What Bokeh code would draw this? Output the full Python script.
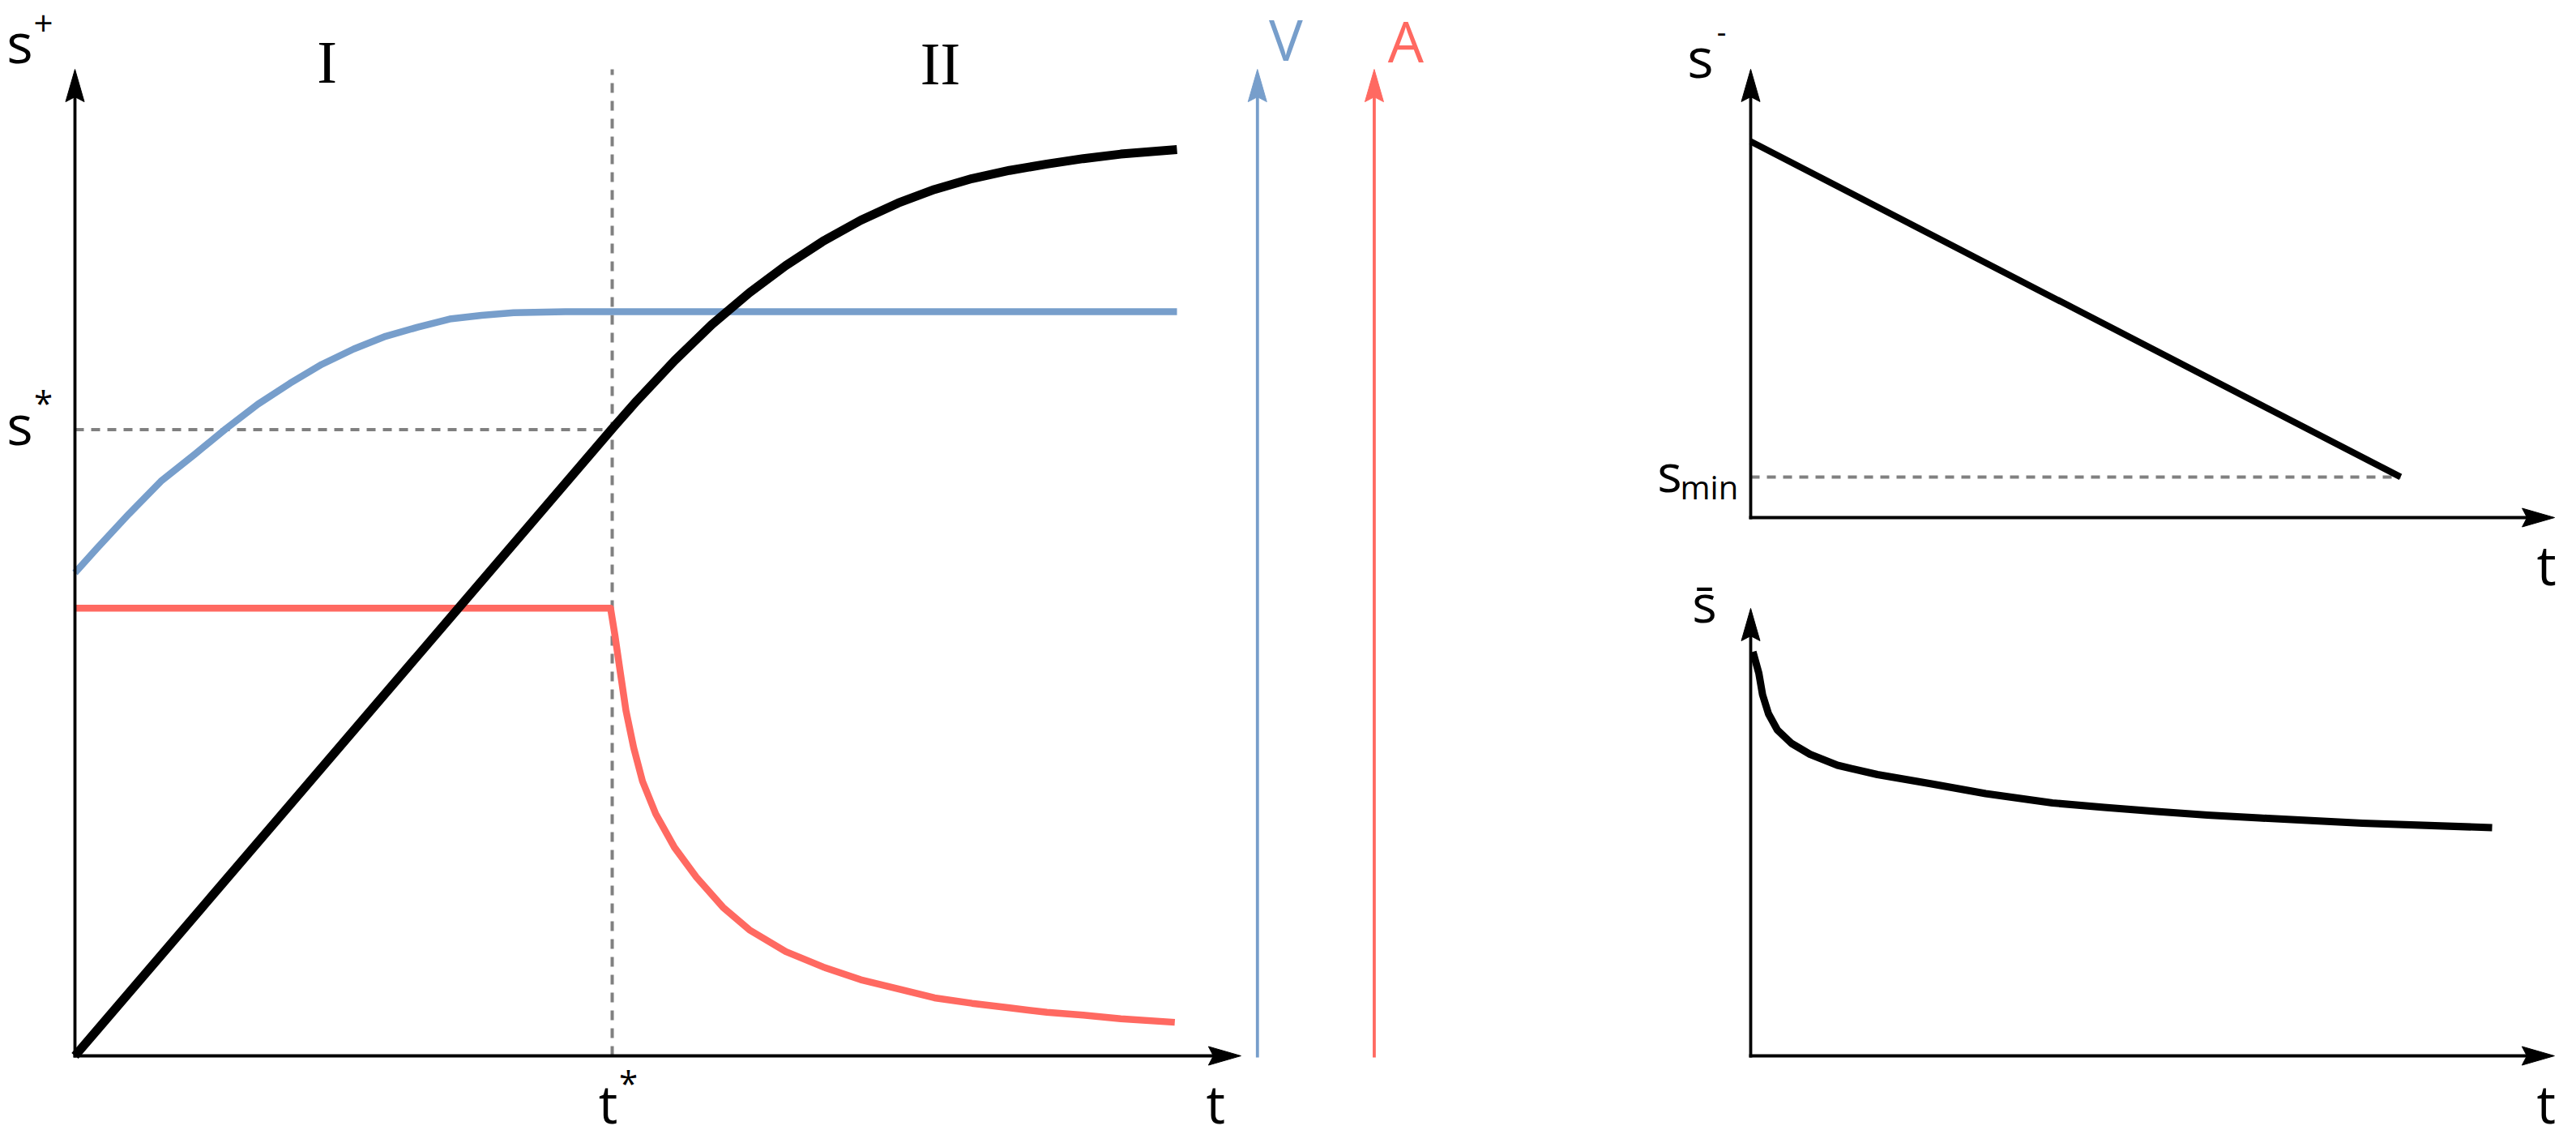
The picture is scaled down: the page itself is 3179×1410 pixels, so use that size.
from bokeh.plotting import figure
from bokeh.models import Range1d, Label
from bokeh.embed import file_html
from bokeh.resources import INLINE

# ---------------- data (schematic units) ----------------
# Left panel: s+ (black), V (blue), A (red) against t
t_star = 4.875
s_star = 6.91

splus_t = [0.0, 4.875, 5.10, 5.44, 5.78, 6.12, 6.45, 6.79, 7.13, 7.47, 7.80, 8.14, 8.48,
           8.82, 9.15, 9.49, 10.0]
splus_v = [0.0, 6.92, 7.23, 7.67, 8.07, 8.42, 8.72, 8.99, 9.22, 9.41, 9.56, 9.68, 9.77,
           9.84, 9.90, 9.95, 10.0]

v_t = [0.0, 0.20, 0.49, 0.78, 1.09, 1.37, 1.66, 1.95, 2.24, 2.53, 2.82, 3.11, 3.40,
       3.69, 3.98, 4.45, 10.0]
v_v = [5.33, 5.60, 5.98, 6.34, 6.64, 6.92, 7.19, 7.42, 7.63, 7.80, 7.94, 8.04, 8.13,
       8.17, 8.20, 8.21, 8.21]

a_t = [0.0, 4.86, 4.90, 4.95, 5.00, 5.07, 5.15, 5.27, 5.44, 5.64, 5.88, 6.12, 6.45,
       6.79, 7.13, 7.47, 7.80, 8.14, 8.48, 8.82, 9.15, 9.49, 9.98]
a_v = [4.94, 4.94, 4.64, 4.22, 3.81, 3.40, 3.03, 2.67, 2.30, 1.97, 1.64, 1.39, 1.15,
       0.98, 0.84, 0.74, 0.64, 0.58, 0.53, 0.48, 0.45, 0.41, 0.37]

# Right top: s- against t
sminus_t = [0.0, 10.0]
sminus_v = [10.0, 1.08]
s_min = 1.08

# Right bottom: s-bar against t
sbar_t = [0.03, 0.11, 0.16, 0.24, 0.36, 0.55, 0.80, 1.17, 1.71, 2.44, 3.17, 4.07,
          4.77, 5.47, 6.16, 6.86, 8.25, 10.0]
sbar_v = [9.97, 9.44, 8.91, 8.44, 8.04, 7.71, 7.44, 7.17, 6.94, 6.71, 6.47, 6.24,
          6.13, 6.03, 5.94, 5.87, 5.74, 5.63]

# ---------------- layout ----------------
W, H = 3170, 1406
BLUE, RED, GREY = "#779ECB", "#FF6961", "#808080"
SANS, SERIF = "Open Sans", "Liberation Serif"
AX_W = 3.8
DASH_W = 4


def rng(ox, oy, sx, sy):
    py = H - oy
    return Range1d(-ox / sx, (W - ox) / sx), Range1d(-py / sy, (H - py) / sy)


# panel origins (page px) and scales (px per unit)
LS = (136.0, 111.8)
TS = (80.2, 46.4)
BS = (91.5, 50.0)
xL, yL = rng(92, 1302, *LS)
xT, yT = rng(2160, 638, *TS)
xB, yB = rng(2160, 1302, *BS)

# axis extents (in each panel's units)
L_top, L_xend, V_pos, A_pos = 10.885, 10.58, 10.73, 11.79
T_top, T_xend = 11.92, 12.37
B_top, B_xend = 11.04, 10.84

p = figure(width=W, height=H, x_range=xL, y_range=yL, output_backend="svg",
           toolbar_location=None, x_axis_location=None, y_axis_location=None,
           min_border=0, outline_line_color=None, title=None)
p.grid.visible = False
p.extra_x_ranges = {"xt": xT, "xb": xB}
p.extra_y_ranges = {"yt": yT, "yb": yB}

HEAD_L, HEAD_HW, HEAD_N = 40.0, 11.5, 34.0


def axis_arrow(x0, y0, x1, y1, sc, color="black", xr="default", yr="default"):
    sx, sy = sc
    kw = dict(x_range_name=xr, y_range_name=yr)
    if x0 == x1:  # vertical, pointing up
        p.line([x0, x0], [y0, y1 - HEAD_N / sy], line_color=color, line_width=AX_W,
               line_cap="square", **kw)
        p.patch([x1, x1 - HEAD_HW / sx, x1, x1 + HEAD_HW / sx],
                [y1, y1 - HEAD_L / sy, y1 - HEAD_N / sy, y1 - HEAD_L / sy],
                fill_color=color, line_color=color, line_width=1, **kw)
    else:  # horizontal, pointing right
        p.line([x0, x1 - HEAD_N / sx], [y0, y0], line_color=color, line_width=AX_W,
               line_cap="square", **kw)
        p.patch([x1, x1 - HEAD_L / sx, x1 - HEAD_N / sx, x1 - HEAD_L / sx],
                [y1, y1 + HEAD_HW / sy, y1, y1 - HEAD_HW / sy],
                fill_color=color, line_color=color, line_width=1, **kw)


def lab(text, x, y, dx, dy, size, color="black", font=SANS, align="center",
        xr="default", yr="default"):
    k = 0.36 if font == SERIF else 0.39   # baseline compensation of the svg text box
    p.add_layout(Label(x=x, y=y, x_offset=dx, y_offset=dy + k * size, text=text,
                       text_font=font, text_font_size=f"{size}px", text_color=color,
                       text_align=align, text_baseline="alphabetic",
                       x_range_name=xr, y_range_name=yr))


# ---- left panel ----
p.line([t_star, t_star], [0, L_top], line_color=GREY, line_width=DASH_W, line_dash="12 10")
p.line([0, t_star], [s_star, s_star], line_color=GREY, line_width=DASH_W, line_dash="11 9")
p.line(v_t, v_v, line_color=BLUE, line_width=8.5, line_join="round")
p.line(a_t, a_v, line_color=RED, line_width=8.5, line_join="round")
p.line(splus_t, splus_v, line_color="black", line_width=11, line_join="round")

axis_arrow(0, 0, 0, L_top, LS)
axis_arrow(0, 0, L_xend, 0, LS)
axis_arrow(V_pos, 0, V_pos, L_top, LS, BLUE)
axis_arrow(A_pos, 0, A_pos, L_top, LS, RED)

lab("s", 0, L_top, -68, 8, 68)
lab("+", 0, L_top, -39, 40, 42)
lab("s", 0, s_star, -68, -19.5, 68)
lab("*", 0, s_star, -39, 17, 42)
lab("I", t_star / 2, L_top, -20.5, -18, 74, font=SERIF)
lab("II", (t_star + 10) / 2, L_top, 56.5, -20, 74, font=SERIF)
lab("t", t_star, 0, -5, -83, 66)
lab("*", t_star, 0, 20, -49, 42)
lab("t", L_xend, 0, -31, -83, 66)
lab("V", V_pos, L_top, 35, 10, 70, color=BLUE)
lab("A", A_pos, L_top, 39, 8, 70, color=RED)

# ---- right top panel ----
p.line([0, sminus_t[-1]], [s_min, s_min], line_color=GREY, line_width=DASH_W,
       line_dash="11 9", x_range_name="xt", y_range_name="yt")
p.line(sminus_t, sminus_v, line_color="black", line_width=8,
       x_range_name="xt", y_range_name="yt")
axis_arrow(0, 0, 0, T_top, TS, xr="xt", yr="yt")
axis_arrow(0, 0, T_xend, 0, TS, xr="xt", yr="yt")
lab("s", 0, T_top, -62, -11, 68, xr="xt", yr="yt")
lab("-", 0, T_top, -36, 31, 36, xr="xt", yr="yt")
lab("s", 0, s_min, -100, -19, 64, xr="xt", yr="yt")
lab("min", 0, s_min, -87, -28, 40, align="left", xr="xt", yr="yt")
lab("t", T_xend, 0, -10, -84, 68, xr="xt", yr="yt")

# ---- right bottom panel ----
p.line(sbar_t, sbar_v, line_color="black", line_width=9, line_join="round",
       x_range_name="xb", y_range_name="yb")
axis_arrow(0, 0, 0, B_top, BS, xr="xb", yr="yb")
axis_arrow(0, 0, B_xend, 0, BS, xr="xb", yr="yb")
lab("s\u0304", 0, B_top, -57, -18, 64, xr="xb", yr="yb")
lab("t", B_xend, 0, -10, -83, 66, xr="xb", yr="yb")

open("out.html", "w").write(file_html(p, INLINE))
